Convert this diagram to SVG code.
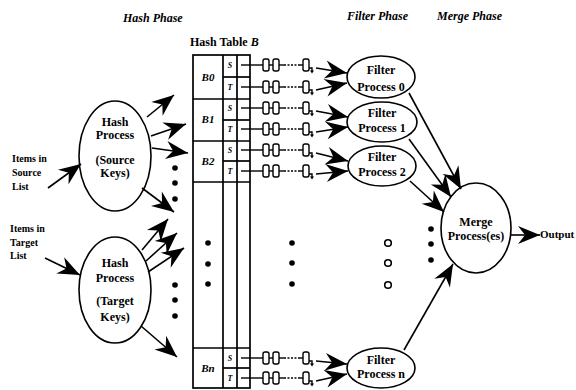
<svg xmlns="http://www.w3.org/2000/svg" xmlns:xlink="http://www.w3.org/1999/xlink" width="576" height="390" viewBox="0 0 576 390">
<style>
  text { font-family: "Liberation Serif", "Times New Roman", serif; font-weight: bold; fill: #000; }
  .title { font-size: 12px; font-style: italic; }
  .lbl { font-size: 10px; }
  .proc { font-size: 12px; text-anchor: middle; }
  .bk { font-size: 11px; font-style: italic; text-anchor: middle; }
  .st { font-size: 8px; font-style: italic; text-anchor: middle; }
  .node { fill: #fff; stroke: #000; stroke-width: 1.6; }
  .tbl { fill: none; stroke: #000; stroke-width: 1.7; }
  .arr { fill: none; stroke: #000; stroke-width: 1.6; marker-end: url(#ah); }
  .ln { fill: none; stroke: #000; stroke-width: 1.4; }
  .dash { fill: none; stroke: #000; stroke-width: 1.4; stroke-dasharray: 2 1.5; }
  .box { fill: #fff; stroke: #000; stroke-width: 1.4; }
  .dot { fill: #000; }
  .odot { fill: #fff; stroke: #000; stroke-width: 1.6; }
</style>
<defs>
  <marker id="ah" markerUnits="userSpaceOnUse" viewBox="-24 -10 25 20" refX="0" refY="0" markerWidth="25" markerHeight="20" orient="auto">
    <path d="M0,0 L-22,-9 L-15,0 L-22,9 Z" fill="#000"/>
  </marker>
  <g id="chain">
    <line class="ln" x1="241" y1="0" x2="263" y2="0"/>
    <rect class="box" x="263" y="-6" width="6" height="12" rx="2"/>
    <line class="ln" x1="269" y1="0" x2="273" y2="0"/>
    <rect class="box" x="273" y="-6" width="6" height="12" rx="2"/>
    <line class="ln" x1="279" y1="0" x2="284" y2="0"/>
    <line class="dash" x1="284" y1="0" x2="300" y2="0"/>
    <line class="ln" x1="300" y1="0" x2="303" y2="0"/>
    <rect class="box" x="303" y="-6" width="6" height="12" rx="2"/>
    <path class="ln" d="M309,3 H312 V6"/>
    <path d="M310,5.5 L314,5.5 L312,8.5 Z" fill="#000"/>
  </g>
</defs>

<!-- titles -->
<text class="title" x="123" y="22">Hash Phase</text>
<text class="title" x="347" y="20">Filter Phase</text>
<text class="title" x="437" y="20">Merge Phase</text>
<text x="190" y="46" style="font-size:12px">Hash Table <tspan font-style="italic">B</tspan></text>

<!-- input labels -->
<g id="source-list">
  <text class="lbl" x="12" y="162">Items in</text>
  <text class="lbl" x="12" y="176">Source</text>
  <text class="lbl" x="12" y="190">List</text>
</g>
<g id="target-list">
  <text class="lbl" x="10" y="232">Items in</text>
  <text class="lbl" x="10" y="246">Target</text>
  <text class="lbl" x="10" y="259">List</text>
</g>

<!-- hash processes -->
<g id="hash-source">
  <ellipse class="node" cx="115" cy="156" rx="36" ry="55"/>
  <text class="proc" x="115" y="126">Hash</text>
  <text class="proc" x="115" y="139">Process</text>
  <text class="proc" x="115" y="164">(Source</text>
  <text class="proc" x="115" y="177">Keys)</text>
</g>
<g id="hash-target">
  <ellipse class="node" cx="115" cy="290" rx="36" ry="53"/>
  <text class="proc" x="115" y="267">Hash</text>
  <text class="proc" x="115" y="282">Process</text>
  <text class="proc" x="115" y="305">(Target</text>
  <text class="proc" x="115" y="321">Keys)</text>
</g>

<!-- hash table -->
<g id="hash-table">
  <rect class="tbl" x="193" y="55" width="57" height="333"/>
  <line class="tbl" x1="223" y1="55" x2="223" y2="388"/>
  <line class="tbl" x1="237" y1="55" x2="237" y2="388"/>
  <line class="tbl" x1="193" y1="99" x2="250" y2="99"/>
  <line class="tbl" x1="193" y1="141" x2="250" y2="141"/>
  <line class="tbl" x1="193" y1="182" x2="250" y2="182"/>
  <line class="tbl" x1="193" y1="348" x2="250" y2="348"/>
  <line class="tbl" x1="223" y1="77" x2="250" y2="77"/>
  <line class="tbl" x1="223" y1="120" x2="250" y2="120"/>
  <line class="tbl" x1="223" y1="161" x2="250" y2="161"/>
  <line class="tbl" x1="223" y1="368" x2="250" y2="368"/>
  <text class="bk" x="208" y="81">B0</text>
  <text class="bk" x="208" y="123">B1</text>
  <text class="bk" x="208" y="165">B2</text>
  <text class="bk" x="208" y="372">Bn</text>
  <text class="st" x="230" y="68">S</text>
  <text class="st" x="230" y="90">T</text>
  <text class="st" x="230" y="111">S</text>
  <text class="st" x="230" y="132">T</text>
  <text class="st" x="230" y="153">S</text>
  <text class="st" x="230" y="174">T</text>
  <text class="st" x="230" y="361">S</text>
  <text class="st" x="230" y="381">T</text>
</g>

<!-- bucket chains -->
<g id="chains">
  <use xlink:href="#chain" href="#chain" y="65"/>
  <use xlink:href="#chain" href="#chain" y="87"/>
  <use xlink:href="#chain" href="#chain" y="108"/>
  <use xlink:href="#chain" href="#chain" y="129"/>
  <use xlink:href="#chain" href="#chain" y="150"/>
  <use xlink:href="#chain" href="#chain" y="171"/>
  <use xlink:href="#chain" href="#chain" y="358"/>
  <use xlink:href="#chain" href="#chain" y="378"/>
</g>

<!-- filter processes -->
<g id="filter-0">
  <ellipse class="node" cx="381" cy="77" rx="34" ry="21"/>
  <text class="proc" x="381" y="74">Filter</text>
  <text class="proc" x="381" y="91">Process 0</text>
</g>
<g id="filter-1">
  <ellipse class="node" cx="382" cy="122" rx="35" ry="20"/>
  <text class="proc" x="382" y="117">Filter</text>
  <text class="proc" x="382" y="132">Process 1</text>
</g>
<g id="filter-2">
  <ellipse class="node" cx="382" cy="166" rx="34" ry="20"/>
  <text class="proc" x="382" y="161">Filter</text>
  <text class="proc" x="382" y="176">Process 2</text>
</g>
<g id="filter-n">
  <ellipse class="node" cx="381" cy="368" rx="34" ry="20"/>
  <text class="proc" x="381" y="364">Filter</text>
  <text class="proc" x="381" y="378">Process n</text>
</g>

<!-- merge -->
<g id="merge">
  <ellipse class="node" cx="476" cy="228" rx="35" ry="45"/>
  <text class="proc" x="476" y="226">Merge</text>
  <text class="proc" x="476" y="240">Process(es)</text>
</g>
<g id="output">
  <text x="540" y="238" style="font-size:11px">Output</text>
</g>

<!-- ellipsis dots -->
<g id="dots">
  <circle class="dot" cx="175" cy="168" r="2.8"/>
  <circle class="dot" cx="175" cy="183" r="2.8"/>
  <circle class="dot" cx="175" cy="199" r="2.8"/>
  <circle class="dot" cx="175" cy="285" r="2.8"/>
  <circle class="dot" cx="175" cy="300" r="2.8"/>
  <circle class="dot" cx="175" cy="316" r="2.8"/>
  <circle class="dot" cx="208" cy="243" r="2.8"/>
  <circle class="dot" cx="208" cy="264" r="2.8"/>
  <circle class="dot" cx="208" cy="284" r="2.8"/>
  <circle class="dot" cx="292" cy="243" r="2.8"/>
  <circle class="dot" cx="292" cy="263" r="2.8"/>
  <circle class="dot" cx="292" cy="284" r="2.8"/>
  <circle class="odot" cx="388" cy="243" r="3.3"/>
  <circle class="odot" cx="388" cy="263" r="3.3"/>
  <circle class="odot" cx="388" cy="285" r="3.3"/>
  <circle class="dot" cx="431" cy="229" r="2.8"/>
  <circle class="dot" cx="431" cy="244" r="2.8"/>
  <circle class="dot" cx="431" cy="260" r="2.8"/>
</g>

<!-- connectors -->
<g id="connectors">
  <line class="arr" x1="48" y1="188" x2="81" y2="164"/>
  <line class="arr" x1="45" y1="258" x2="80" y2="275"/>
  <line class="arr" x1="147" y1="117" x2="174" y2="95"/>
  <line class="arr" x1="151" y1="136" x2="186" y2="124"/>
  <line class="arr" x1="152" y1="148" x2="188" y2="153"/>
  <line class="arr" x1="142" y1="188" x2="174" y2="212"/>
  <line class="arr" x1="142" y1="250" x2="168" y2="219"/>
  <line class="arr" x1="146" y1="261" x2="177" y2="233"/>
  <line class="arr" x1="148" y1="272" x2="184" y2="248"/>
  <line class="arr" x1="141" y1="326" x2="177" y2="357"/>

  <line class="arr" x1="316" y1="68" x2="347" y2="73"/>
  <line class="arr" x1="316" y1="90" x2="347" y2="83"/>
  <line class="arr" x1="316" y1="111" x2="348" y2="117"/>
  <line class="arr" x1="316" y1="132" x2="348" y2="127"/>
  <line class="arr" x1="316" y1="153" x2="348" y2="161"/>
  <line class="arr" x1="316" y1="174" x2="348" y2="171"/>
  <line class="arr" x1="316" y1="361" x2="347" y2="364"/>
  <line class="arr" x1="316" y1="381" x2="347" y2="374"/>

  <line class="arr" x1="409" y1="93" x2="461" y2="189"/>
  <line class="arr" x1="409" y1="139" x2="451" y2="197"/>
  <line class="arr" x1="410" y1="181" x2="444" y2="212"/>
  <line class="arr" x1="404" y1="350" x2="453" y2="264"/>
  <line class="arr" x1="511" y1="235" x2="540" y2="235"/>
</g>
</svg>
